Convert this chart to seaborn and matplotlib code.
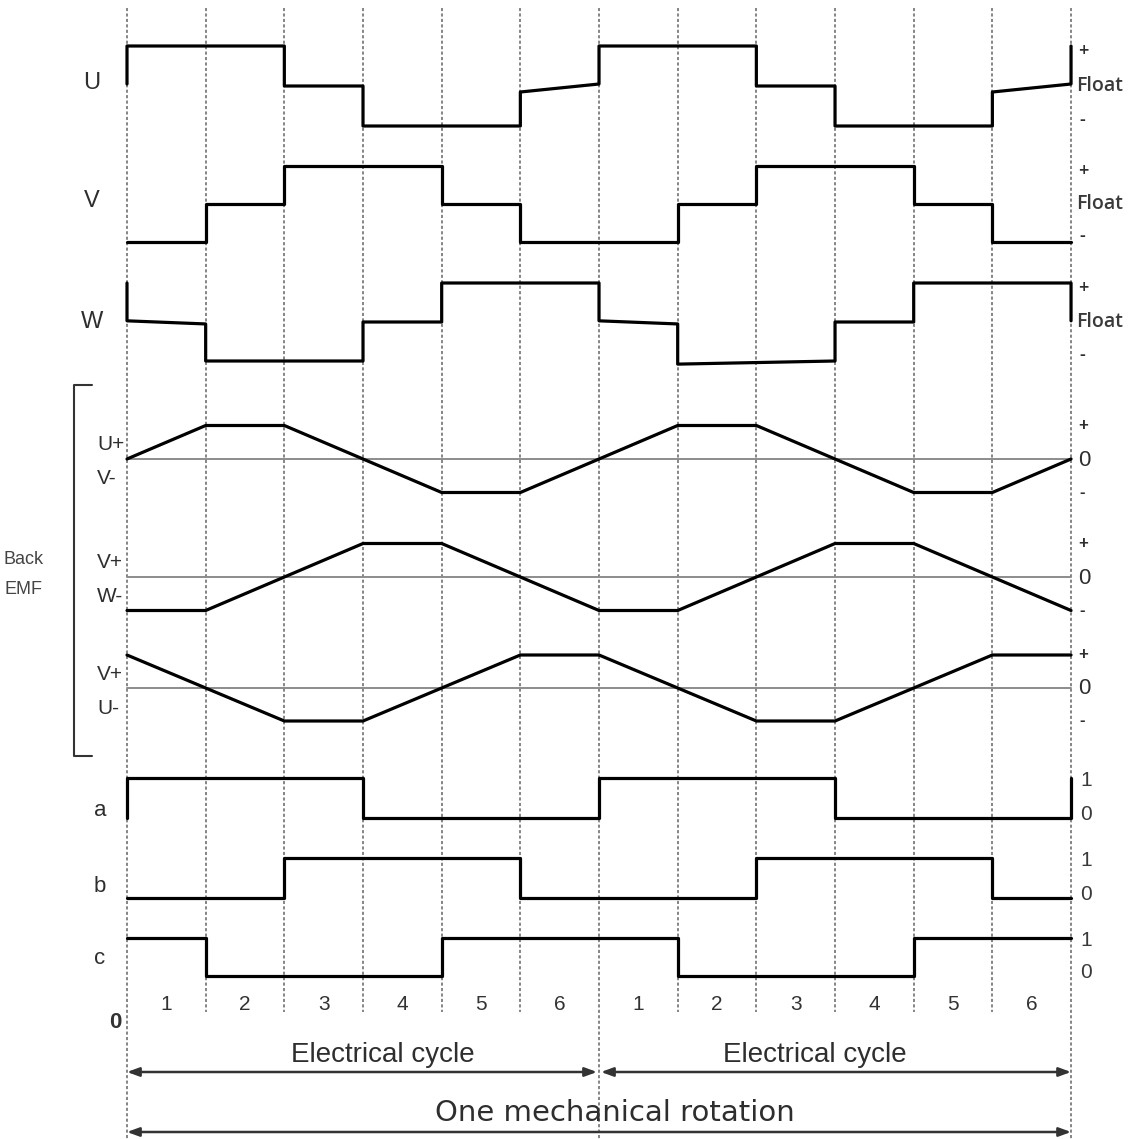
import numpy as np
import pandas as pd
import matplotlib
matplotlib.use("Agg")
import matplotlib.pyplot as plt
import seaborn as sns

# ---------------- data ----------------
sector_labels = ["1", "2", "3", "4", "5", "6", "1", "2", "3", "4", "5", "6"]
# phase drive state per sector (+1 = "+", 0 = "Float", -1 = "-"), value at start / end of sector
U_start = [1, 1, 0, -1, -1, -0.15, 1, 1, 0, -1, -1, -0.15]
U_end = [1, 1, 0, -1, -1, 0.05, 1, 1, 0, -1, -1, 0.05]
V_start = [-1, 0, 1, 1, 0, -1, -1, 0, 1, 1, 0, -1]
V_end = [-1, 0, 1, 1, 0, -1, -1, 0, 1, 1, 0, -1]
W_start = [0.03, -1, -1, 0, 1, 1, 0.03, -1.08, -1.04, 0, 1, 1]
W_end = [-0.05, -1, -1, 0, 1, 1, -0.05, -1.04, -1.0, 0, 1, 1]
# back EMF value at the 13 sector boundaries
emf_UV = [0, 1, 1, 0, -1, -1, 0, 1, 1, 0, -1, -1, 0]
emf_VW = [-1, -1, 0, 1, 1, 0, -1, -1, 0, 1, 1, 0, -1]
emf_VU = [1, 0, -1, -1, 0, 1, 1, 0, -1, -1, 0, 1, 1]
# hall sensor states per sector
hall_a = [1, 1, 1, 0, 0, 0, 1, 1, 1, 0, 0, 0]
hall_b = [0, 0, 1, 1, 1, 0, 0, 0, 1, 1, 1, 0]
hall_c = [1, 0, 0, 0, 1, 1, 1, 0, 0, 0, 1, 1]

# ---------------- layout (pixel-like vertical units) ----------------
W_PX, H_PX = 1136, 1139
X0_PX, DX_PX = 127.0, 78.67
N = len(sector_labels)

sns.set_theme(style="white")
plt.rcParams["font.family"] = ["Liberation Sans", "DejaVu Sans"]

fig = plt.figure(figsize=(W_PX / 100, H_PX / 100), dpi=100)
ax = fig.add_axes([0, 0, 1, 1])
ax.set_xlim(-X0_PX / DX_PX, (W_PX - X0_PX) / DX_PX)
ax.set_ylim(H_PX, 0)
ax.axis("off")

TXT = "#2e2e2e"
LW = 2.3


def px(xp):
    return (xp - X0_PX) / DX_PX


# vertical dotted sector lines
for i in range(N + 1):
    bottom = H_PX if i in (0, 6, 12) else 1012
    ax.plot([i, i], [8, bottom], color="#858585", lw=1.4, ls=(0, (1.6, 1.2)), zorder=1)


def step_df(starts, ends):
    xs = [0]
    ys = [ends[-1]]
    for i in range(len(starts)):
        xs += [i, i + 1]
        ys += [starts[i], ends[i]]
    xs.append(len(starts))
    ys.append(starts[0])
    return np.array(xs, float), np.array(ys, float)


def draw(xs, ys, center, amp):
    df = pd.DataFrame({"x": xs, "y": center - amp * ys})
    sns.lineplot(data=df, x="x", y="y", sort=False, estimator=None, color="black",
                 lw=LW, ax=ax, zorder=3)


# ---- phase voltages ----
phase = [("U", U_start, U_end, 86, 40, 83), ("V", V_start, V_end, 204, 38, 201),
         ("W", W_start, W_end, 322, 39, 322)]
for name, st, en, c, a, ly in phase:
    xs, ys = step_df(st, en)
    draw(xs, ys, c, a)
    ax.text(px(92), ly, name, ha="center", va="center", fontsize=17, color=TXT)
    ax.text(px(1083), c - a + 5, "+", ha="center", va="center", fontsize=13,
            color=TXT, family="Open Sans", weight="semibold")
    ax.text(px(1076), c, "Float", ha="left", va="center", fontsize=14,
            color="#3a3a3a", family="Open Sans", weight="semibold")
    ax.text(px(1082), c + a - 6, "-", ha="center", va="center", fontsize=13,
            color=TXT, family="Open Sans", weight="semibold")

# ---- back EMF ----
emf = [(emf_UV, 459, 33.5, "U+", "V-"), (emf_VW, 577, 33.5, "V+", "W-"),
       (emf_VU, 688, 33.0, "V+", "U-")]
for vals, c, a, l1, l2 in emf:
    ax.plot([0, N], [c, c], color="#8c8c8c", lw=1.4, zorder=2)
    xs = np.arange(N + 1, dtype=float)
    draw(xs, np.array(vals, float), c, a)
    ax.text(px(97), c - 14, l1, ha="left", va="center", fontsize=15, color=TXT)
    ax.text(px(97), c + 20, l2, ha="left", va="center", fontsize=15, color=TXT)
    ax.text(px(1083), c - a, "+", ha="center", va="center", fontsize=12, color=TXT, weight="bold")
    ax.text(px(1084), c + 1, "0", ha="center", va="center", fontsize=16, color=TXT)
    ax.text(px(1082), c + a, "-", ha="center", va="center", fontsize=12, color=TXT, weight="bold")

# bracket + Back EMF label
ax.plot([px(92), px(74), px(74), px(92)], [385, 385, 756, 756], color="#333333", lw=1.5)
ax.text(px(24), 560, "Back", ha="center", va="center", fontsize=13, color="#444444")
ax.text(px(24), 590, "EMF", ha="center", va="center", fontsize=13, color="#444444")

# ---- hall signals ----
hall = [(hall_a, 818, 40, "a", 811), (hall_b, 898, 40, "b", 887), (hall_c, 976, 38, "c", 958)]
for vals, low, a, name, ly in hall:
    xs, ys = step_df(vals, vals)
    draw(xs, ys, low, a)
    ax.text(px(100), ly, name, ha="center", va="center", fontsize=16, color=TXT)
    ax.text(px(1086), low - a + 3, "1", ha="center", va="center", fontsize=15, color="#3a3a3a")
    ax.text(px(1086), low - 3, "0", ha="center", va="center", fontsize=15, color="#3a3a3a")

# sector numbers
for i, lab in enumerate(sector_labels):
    ax.text(i + 0.5, 1004, lab, ha="center", va="center", fontsize=15, color="#333333")
ax.text(px(115), 1022, "0", ha="center", va="center", fontsize=16, color="#333333",
        weight="bold")

# cycle arrows
arrow_kw = dict(arrowstyle="<|-|>,head_length=0.6,head_width=0.22", color="#333333", lw=1.8,
                shrinkA=0, shrinkB=0)
ax.annotate("", xy=(px(597), 1072), xytext=(0, 1072), arrowprops=arrow_kw)
ax.annotate("", xy=(N, 1072), xytext=(px(601), 1072), arrowprops=arrow_kw)
ax.annotate("", xy=(N, 1132), xytext=(0, 1132), arrowprops=arrow_kw)
ax.text(px(383), 1055, "Electrical cycle", ha="center", va="center", fontsize=20, color=TXT)
ax.text(px(815), 1055, "Electrical cycle", ha="center", va="center", fontsize=20, color=TXT)
ax.text(px(615), 1113, "One mechanical rotation", ha="center", va="center", fontsize=21,
        color=TXT, family="DejaVu Sans")

fig.savefig("out.png", dpi=100, facecolor="white")
